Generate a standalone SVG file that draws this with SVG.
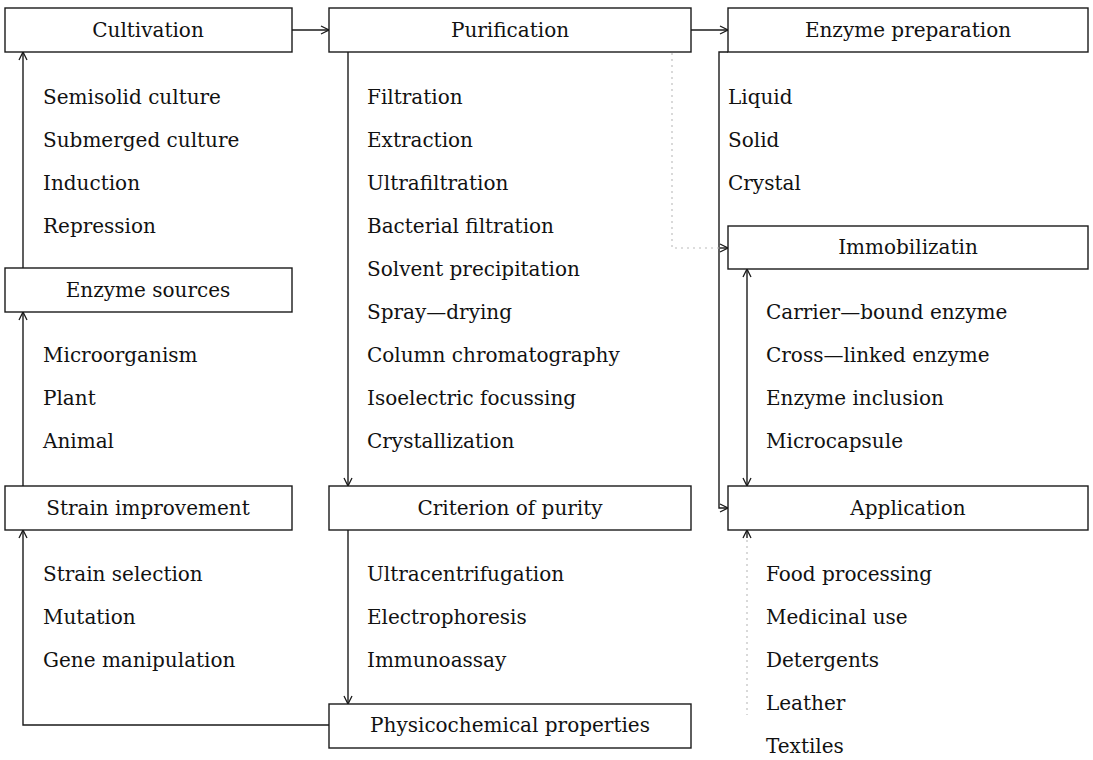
<svg xmlns="http://www.w3.org/2000/svg" width="1093" height="760" viewBox="0 0 1093 760">
<defs>
<style>
.box{fill:#fff;stroke:#1a1a1a;stroke-width:1.4}
.t{font-family:"DejaVu Serif","Liberation Serif",serif;font-size:20px;fill:#111;dominant-baseline:central}
.c{text-anchor:middle}
.ln{fill:none;stroke:#1a1a1a;stroke-width:1.4}
.dot{fill:none;stroke:#bbb;stroke-width:1.1;stroke-dasharray:2 4}
</style>
<marker id="ah" viewBox="0 0 10 10" refX="9" refY="5" markerWidth="10" markerHeight="10" markerUnits="userSpaceOnUse" orient="auto-start-reverse">
<path d="M1,1 L9,5 L1,9" fill="none" stroke="#1a1a1a" stroke-width="1.3"/>
</marker>
</defs>
<rect width="1093" height="760" fill="#fff"/>
<g id="connectors">
<path class="ln" d="M292,30 H329" marker-end="url(#ah)"/>
<path class="ln" d="M691,30 H728" marker-end="url(#ah)"/>
<path class="ln" d="M23,268 V52" marker-end="url(#ah)"/>
<path class="ln" d="M23,486 V312" marker-end="url(#ah)"/>
<path class="ln" d="M329,725 H23 V530" marker-end="url(#ah)"/>
<path class="ln" d="M348,52 V486" marker-end="url(#ah)"/>
<path class="ln" d="M348,529 V704" marker-end="url(#ah)"/>
<path class="ln" d="M728,52 H719 V508 H728" marker-end="url(#ah)"/>
<path class="dot" d="M672,53 V248 H722"/>
<path class="ln" d="M720,248 H728" marker-end="url(#ah)"/>
<path class="ln" d="M747,269 V486" marker-start="url(#ah)" marker-end="url(#ah)"/>
<path class="dot" d="M747,540 V715"/>
<path class="ln" d="M747,538 V530" marker-end="url(#ah)"/>
</g>
<g id="cultivation"><rect class="box" x="5" y="8" width="287" height="44"/><text class="t c" x="148" y="30">Cultivation</text></g>
<g id="purification"><rect class="box" x="329" y="8" width="362" height="44"/><text class="t c" x="510" y="30">Purification</text></g>
<g id="enzyme-preparation"><rect class="box" x="728" y="8" width="360" height="44"/><text class="t c" x="908" y="30">Enzyme preparation</text></g>
<g id="immobilization"><rect class="box" x="728" y="226" width="360" height="43"/><text class="t c" x="908" y="247">Immobilizatin</text></g>
<g id="enzyme-sources"><rect class="box" x="5" y="268" width="287" height="44"/><text class="t c" x="148" y="290">Enzyme sources</text></g>
<g id="strain-improvement"><rect class="box" x="5" y="486" width="287" height="44"/><text class="t c" x="148" y="508">Strain improvement</text></g>
<g id="criterion"><rect class="box" x="329" y="486" width="362" height="44"/><text class="t c" x="510" y="508">Criterion of purity</text></g>
<g id="application"><rect class="box" x="728" y="486" width="360" height="44"/><text class="t c" x="908" y="508">Application</text></g>
<g id="physicochemical"><rect class="box" x="329" y="704" width="362" height="44"/><text class="t c" x="510" y="725">Physicochemical properties</text></g>
<g id="cultivation-items">
<text class="t" x="43" y="97">Semisolid culture</text>
<text class="t" x="43" y="140">Submerged culture</text>
<text class="t" x="43" y="183">Induction</text>
<text class="t" x="43" y="226">Repression</text>
</g>
<g id="source-items">
<text class="t" x="43" y="355">Microorganism</text>
<text class="t" x="43" y="398">Plant</text>
<text class="t" x="43" y="441">Animal</text>
</g>
<g id="strain-items">
<text class="t" x="43" y="574">Strain selection</text>
<text class="t" x="43" y="617">Mutation</text>
<text class="t" x="43" y="660">Gene manipulation</text>
</g>
<g id="purification-items">
<text class="t" x="367" y="97">Filtration</text>
<text class="t" x="367" y="140">Extraction</text>
<text class="t" x="367" y="183">Ultrafiltration</text>
<text class="t" x="367" y="226">Bacterial filtration</text>
<text class="t" x="367" y="269">Solvent precipitation</text>
<text class="t" x="367" y="312">Spray—drying</text>
<text class="t" x="367" y="355">Column chromatography</text>
<text class="t" x="367" y="398">Isoelectric focussing</text>
<text class="t" x="367" y="441">Crystallization</text>
</g>
<g id="purity-items">
<text class="t" x="367" y="574">Ultracentrifugation</text>
<text class="t" x="367" y="617">Electrophoresis</text>
<text class="t" x="367" y="660">Immunoassay</text>
</g>
<g id="preparation-items">
<text class="t" x="728" y="97">Liquid</text>
<text class="t" x="728" y="140">Solid</text>
<text class="t" x="728" y="183">Crystal</text>
</g>
<g id="immobilization-items">
<text class="t" x="766" y="312">Carrier—bound enzyme</text>
<text class="t" x="766" y="355">Cross—linked enzyme</text>
<text class="t" x="766" y="398">Enzyme inclusion</text>
<text class="t" x="766" y="441">Microcapsule</text>
</g>
<g id="application-items">
<text class="t" x="766" y="574">Food processing</text>
<text class="t" x="766" y="617">Medicinal use</text>
<text class="t" x="766" y="660">Detergents</text>
<text class="t" x="766" y="703">Leather</text>
<text class="t" x="766" y="746">Textiles</text>
</g>
</svg>
